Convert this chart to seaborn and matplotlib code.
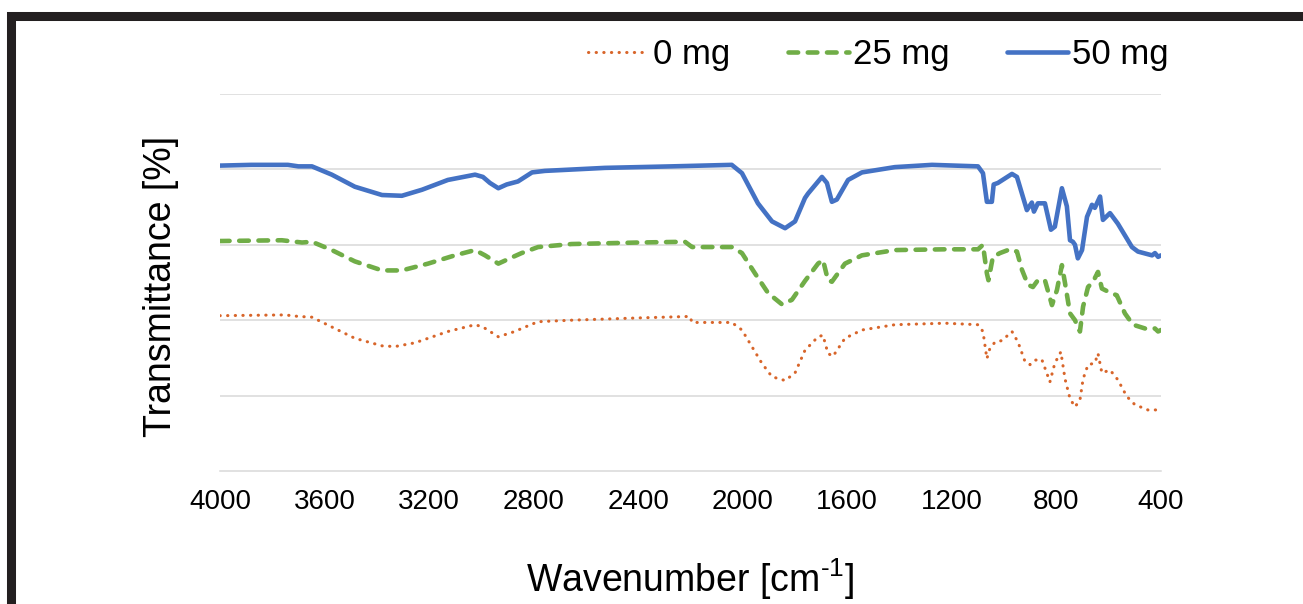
import matplotlib
matplotlib.use('Agg')
import matplotlib.pyplot as plt
from matplotlib.patches import Rectangle
import seaborn as sns

# FTIR spectra, values (transmittance in offset units)
wn_0 = [4000, 3751, 3700, 3648, 3572, 3484, 3380, 3331, 3254, 3128, 3024, 2994,
        2935, 2872, 2846, 2783, 2655, 2400, 2202, 2194, 2042, 2003, 1965, 1927,
        1888, 1838, 1800, 1762, 1712, 1693, 1674, 1655, 1609, 1544, 1418, 1226,
        1100, 1081, 1066, 1055, 1035, 1008, 970, 947, 920, 901, 882, 856, 836,
        825, 806, 783, 767, 748, 729, 710, 698, 679, 653, 641, 626, 595, 565,
        531, 500, 450, 400]
tr_0 = [2.06, 2.07, 2.05, 2.04, 1.91, 1.76, 1.66, 1.65, 1.70, 1.85, 1.94, 1.91,
        1.78, 1.85, 1.89, 1.98, 2.00, 2.03, 2.05, 1.97, 1.97, 1.87, 1.65, 1.43,
        1.25, 1.20, 1.30, 1.60, 1.78, 1.80, 1.56, 1.52, 1.76, 1.87, 1.94, 1.96,
        1.94, 1.85, 1.49, 1.62, 1.71, 1.73, 1.85, 1.71, 1.45, 1.41, 1.47, 1.48, 1.29,
        1.18, 1.43, 1.58, 1.22, 0.96, 0.85, 0.94, 1.22, 1.41, 1.43, 1.56, 1.30, 1.34, 1.21,
        0.99, 0.88, 0.81, 0.81]

wn_25 = [4000, 3763, 3686, 3648, 3572, 3484, 3380, 3304, 3204, 3101, 3024, 2986,
         2935, 2872, 2846, 2783, 2655, 2400, 2221, 2194, 2042, 2003, 1953, 1903,
         1850, 1812, 1762, 1712, 1693, 1674, 1659, 1609, 1544, 1418, 1226, 1100,
         1081, 1066, 1060, 1043, 1016, 978, 951, 932, 909, 890, 871, 844, 817,
         798, 779, 767, 748, 729, 710, 698, 679, 660, 641, 626, 603, 569, 538,
         507, 461, 423, 411, 400]
tr_25 = [3.05, 3.06, 3.03, 3.04, 2.93, 2.78, 2.66, 2.66, 2.75, 2.86, 2.93, 2.86,
         2.75, 2.85, 2.89, 2.97, 3.01, 3.03, 3.04, 2.97, 2.97, 2.89, 2.62, 2.36,
         2.21, 2.27, 2.52, 2.75, 2.80, 2.53, 2.51, 2.75, 2.86, 2.93, 2.94, 2.94,
         3.00, 2.62, 2.53, 2.84, 2.89, 2.94, 2.91, 2.67, 2.47, 2.44, 2.53, 2.53, 2.20,
         2.40, 2.73, 2.49, 2.09, 2.00, 1.85, 2.18, 2.44, 2.51, 2.64, 2.42, 2.38, 2.33, 2.09,
         1.94, 1.89, 1.89, 1.85, 1.87]

wn_50 = [4000, 3880, 3740, 3700, 3648, 3572, 3484, 3380, 3304, 3227, 3128, 3024,
         2994, 2967, 2935, 2903, 2860, 2806, 2757, 2527, 2272, 2042, 2003, 1942,
         1888, 1838, 1800, 1762, 1750, 1697, 1678, 1659, 1640, 1597, 1544, 1418,
         1276, 1100, 1081, 1066, 1047, 1040, 1024, 970, 951, 932, 913, 894, 886,
         871, 844, 821, 806, 779, 760, 748, 737, 729, 718, 702, 683, 664, 653,
         633, 622, 595, 565, 511, 488, 434, 423, 411, 400]
tr_50 = [4.05, 4.06, 4.06, 4.04, 4.04, 3.93, 3.77, 3.66, 3.65, 3.73, 3.86, 3.93,
         3.90, 3.82, 3.75, 3.80, 3.84, 3.96, 3.98, 4.02, 4.04, 4.06, 3.95, 3.55,
         3.31, 3.22, 3.31, 3.62, 3.68, 3.90, 3.82, 3.57, 3.60, 3.86, 3.96, 4.03,
         4.06, 4.04, 3.95, 3.57, 3.57, 3.80, 3.82, 3.94, 3.90, 3.68, 3.46, 3.56, 3.44,
         3.55, 3.55, 3.20, 3.24, 3.75, 3.51, 3.06, 3.04, 3.00, 2.82, 2.93, 3.37, 3.53, 3.49,
         3.64, 3.33, 3.42, 3.28, 2.97, 2.91, 2.86, 2.89, 2.84, 2.86]

x_ticks = [4000, 3600, 3200, 2800, 2400, 2000, 1600, 1200, 800, 400]

sns.set_style('white')
plt.rcParams['font.family'] = ['Liberation Sans', 'DejaVu Sans']
plt.rcParams['mathtext.fontset'] = 'custom'
plt.rcParams['mathtext.rm'] = 'Liberation Sans'
plt.rcParams['mathtext.default'] = 'regular'
plt.rcParams['text.color'] = 'black'
plt.rcParams['axes.labelcolor'] = 'black'

fig = plt.figure(figsize=(13.03, 6.04), dpi=100)
ax = fig.add_axes([0.1688, 0.2202, 0.7222, 0.6242])

sns.lineplot(x=wn_0, y=tr_0, ax=ax, color='#d8652a', lw=2.2,
             estimator=None, sort=False, label='0 mg')
ln = ax.get_lines()[-1]
ln.set_linestyle((0, (0.1, 2.4)))
ln.set_dash_capstyle('round')

sns.lineplot(x=wn_25, y=tr_25, ax=ax, color='#70ad47', lw=3.3,
             estimator=None, sort=False, label='25 mg')
ln = ax.get_lines()[-1]
ln.set_linestyle((0, (2.1, 2.1)))
ln.set_dash_capstyle('round')

sns.lineplot(x=wn_50, y=tr_50, ax=ax, color='#4472c4', lw=3.3,
             estimator=None, sort=False, label='50 mg')
ax.get_lines()[-1].set_solid_capstyle('round')

ax.set_xlim(4000, 400)
ax.set_ylim(0, 5)
ax.set_xticks(x_ticks)
ax.set_yticks([1, 2, 3, 4, 5])
ax.set_yticklabels([])
ax.tick_params(axis='y', length=0)
ax.tick_params(axis='x', direction='out', length=6, width=1.1, color='#d9d9d9',
               labelsize=20, labelcolor='black', pad=7)
ax.grid(axis='y', color='#d9d9d9', lw=1.1)
ax.set_axisbelow(True)
for s in ['left', 'right', 'top']:
    ax.spines[s].set_visible(False)
ax.spines['bottom'].set_color('#d9d9d9')
ax.spines['bottom'].set_linewidth(1.1)

ax.set_ylabel('Transmittance [%]', fontsize=27)
ax.yaxis.set_label_coords(-0.043, 0.49)
ax.set_xlabel(r'Wavenumber [cm$^{\text{-}1}$]', fontsize=27)
ax.xaxis.set_label_coords(0.5, -0.226)

handles, labels = ax.get_legend_handles_labels()
ax.legend(handles, labels, loc='center right', bbox_to_anchor=(0.898 + 0.012, 0.909),
          bbox_transform=fig.transFigure, ncol=3, frameon=False, fontsize=25,
          handlelength=1.75, handletextpad=0.12, columnspacing=1.65, borderpad=0)

# dark frame that runs off the right and bottom of the picture
fig.patches.append(Rectangle((0.0081, -0.1), 1.2, 1.0727, transform=fig.transFigure,
                             fill=False, ec='#231f20', lw=6.5, clip_on=False))

fig.savefig('out.png', dpi=100)
